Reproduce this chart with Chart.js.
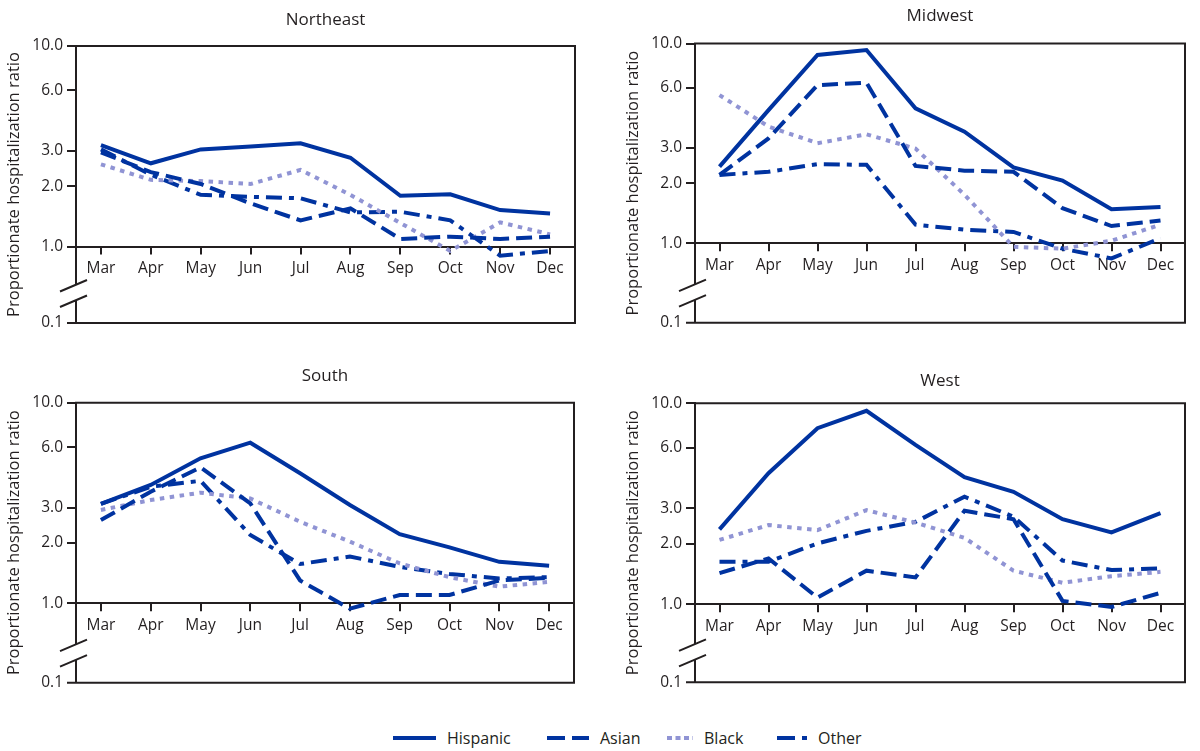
<!DOCTYPE html>
<html>
<head>
<meta charset="utf-8">
<script src="https://cdn.jsdelivr.net/npm/chart.js@4.4.1/dist/chart.umd.min.js"></script>
<style>
html,body{margin:0;padding:0;background:#fff;overflow:hidden;width:1200px;height:751px;}
canvas{position:absolute;}
.li{position:absolute;top:727px;height:22px;display:flex;align-items:center;font-family:'Open Sans',sans-serif;font-size:16px;color:#231f20;white-space:nowrap;}
.li svg{display:block;margin-right:11px;}
</style>
</head>
<body>
<canvas id="c0"></canvas>
<canvas id="c1"></canvas>
<canvas id="c2"></canvas>
<canvas id="c3"></canvas>
<div id="legend"></div>
<script>
// ---------- data ----------
const months = ['Mar','Apr','May','Jun','Jul','Aug','Sep','Oct','Nov','Dec'];
const yTicks = [1, 2, 3, 6, 10];
const yBreakTick = 0.1;
const yTitle = 'Proportionate hospitalization ratio';
const regions = ['Northeast', 'Midwest', 'South', 'West'];
const seriesNames = ['Hispanic', 'Asian', 'Black', 'Other'];

const neHispanic = [3.2, 2.6, 3.05, 3.15, 3.27, 2.77, 1.79, 1.82, 1.52, 1.46];
const neAsian    = [2.95, 2.35, 2.05, 1.64, 1.35, 1.55, 1.09, 1.12, 1.09, 1.12];
const neBlack    = [2.57, 2.15, 2.12, 2.05, 2.41, 1.81, 1.31, 0.95, 1.32, 1.15];
const neOther    = [3.05, 2.28, 1.81, 1.77, 1.74, 1.48, 1.49, 1.35, 0.90, 0.95];

const mwHispanic = [2.42, 4.64, 8.76, 9.27, 4.74, 3.62, 2.4, 2.06, 1.48, 1.52];
const mwAsian    = [2.2, 3.35, 6.19, 6.37, 2.44, 2.31, 2.28, 1.5, 1.22, 1.3];
const mwBlack    = [5.52, 3.84, 3.17, 3.51, 2.98, 1.75, 0.96, 0.94, 1.03, 1.24];
const mwOther    = [2.2, 2.28, 2.49, 2.47, 1.24, 1.17, 1.14, 0.94, 0.84, 1.06];

const soHispanic = [3.13, 3.89, 5.28, 6.32, 4.45, 3.09, 2.21, 1.90, 1.61, 1.54];
const soAsian    = [2.6, 3.6, 4.76, 3.15, 1.30, 0.94, 1.10, 1.10, 1.30, 1.34];
const soBlack    = [2.92, 3.27, 3.56, 3.33, 2.55, 2.03, 1.58, 1.35, 1.21, 1.28];
const soOther    = [3.13, 3.81, 4.08, 2.19, 1.57, 1.71, 1.52, 1.40, 1.33, 1.35];

const weHispanic = [2.36, 4.49, 7.52, 9.18, 6.21, 4.29, 3.63, 2.65, 2.28, 2.84];
const weAsian    = [1.43, 1.69, 1.08, 1.47, 1.36, 2.92, 2.65, 1.04, 0.97, 1.14];
const weBlack    = [2.09, 2.48, 2.34, 2.94, 2.55, 2.14, 1.47, 1.28, 1.38, 1.45];
const weOther    = [1.63, 1.63, 2.01, 2.32, 2.57, 3.43, 2.73, 1.65, 1.48, 1.51];

const regionSeries = [
  [neHispanic, neAsian, neBlack, neOther],
  [mwHispanic, mwAsian, mwBlack, mwOther],
  [soHispanic, soAsian, soBlack, soOther],
  [weHispanic, weAsian, weBlack, weOther]
];

// ---------- styles / layout ----------
const INK = '#231f20';
const DARK = '#0033a0';
const LIGHT = '#9094d4';
const seriesStyle = [
  {color: DARK,  dash: []},
  {color: DARK,  dash: [16, 7]},
  {color: LIGHT, dash: [4.5, 5.5]},
  {color: DARK,  dash: [16, 7, 5, 7]}
];
const panelLayout = [
  {L: 76,  T: 46,    R: 575,  upper: 200.5, ext: 76.5, titleGap: 26},
  {L: 695, T: 43.5,  R: 1185, upper: 199.8, ext: 79.4, titleGap: 27.5},
  {L: 76,  T: 402.7, R: 574,  upper: 200.6, ext: 79.4, titleGap: 26.7},
  {L: 695, T: 403.3, R: 1185, upper: 201,   ext: 78,   titleGap: 22.6}
];
const AXIS_W = 76;
const TICK_FONT = 15.5;

Chart.defaults.font.family = "'Open Sans', sans-serif";
Chart.defaults.color = INK;

const framePlugin = {
  id: 'frame',
  beforeDatasetsDraw(chart, args, o) {
    const ctx = chart.ctx, a = chart.chartArea;
    const yb = a.bottom + o.ext;
    ctx.save();
    ctx.strokeStyle = INK;
    ctx.lineWidth = 2;
    ctx.lineCap = 'butt';
    ctx.beginPath();
    ctx.moveTo(a.left - 1, a.top);
    ctx.lineTo(a.right, a.top);
    ctx.lineTo(a.right, yb);
    ctx.lineTo(a.left - 9, yb);
    ctx.moveTo(a.left, a.bottom);
    ctx.lineTo(a.left, yb - 38);
    ctx.moveTo(a.left, yb - 22.5);
    ctx.lineTo(a.left, yb);
    for (const d of [38, 22.5]) {
      ctx.moveTo(a.left - 16, yb - d + 6.5);
      ctx.lineTo(a.left + 11, yb - d - 5);
    }
    ctx.stroke();
    ctx.fillStyle = INK;
    ctx.font = TICK_FONT + "px 'Open Sans'";
    ctx.textAlign = 'right';
    ctx.textBaseline = 'middle';
    ctx.fillText(o.lowLabel, a.left - 13, yb);
    ctx.save();
    ctx.translate(a.left - 62, (a.top + yb) / 2);
    ctx.rotate(-Math.PI / 2);
    ctx.textAlign = 'center';
    ctx.font = "16.5px 'Open Sans'";
    ctx.fillText(o.yTitle, 0, 0);
    ctx.restore();
    ctx.textAlign = 'center';
    ctx.font = "17px 'Open Sans'";
    ctx.fillText(o.title, (a.left + a.right) / 2, a.top - o.titleGap);
    ctx.restore();
  }
};

regions.forEach((region, i) => {
  const p = panelLayout[i];
  const cv = document.getElementById('c' + i);
  const cTop = Math.floor(p.T - 46);
  const padTop = p.T - cTop;
  const cw = p.R - p.L + AXIS_W + 20;
  const ch = Math.ceil(padTop + p.upper + p.ext + 16);
  const xH = ch - padTop - p.upper;
  cv.width = cw; cv.height = ch;
  cv.style.width = cw + 'px'; cv.style.height = ch + 'px';
  cv.style.left = (p.L - AXIS_W) + 'px';
  cv.style.top = cTop + 'px';

  new Chart(cv, {
    type: 'line',
    data: {
      labels: months,
      datasets: seriesNames.map((name, k) => ({
        label: name,
        data: regionSeries[i][k],
        borderColor: seriesStyle[k].color,
        backgroundColor: seriesStyle[k].color,
        borderDash: seriesStyle[k].dash,
        borderWidth: 4,
        borderCapStyle: 'butt',
        pointRadius: 0,
        tension: 0,
        clip: false,
        fill: false
      }))
    },
    options: {
      responsive: false,
      animation: false,
      events: [],
      layout: {padding: {top: padTop, left: 0, right: 20, bottom: 0}},
      plugins: {
        legend: {display: false},
        tooltip: {enabled: false},
        frame: {ext: p.ext, titleGap: p.titleGap, title: region, yTitle: yTitle, lowLabel: yBreakTick.toFixed(1)}
      },
      scales: {
        x: {
          type: 'category',
          offset: true,
          afterFit: s => { s.height = xH; },
          grid: {display: true, drawOnChartArea: false, drawTicks: true, tickLength: 8, color: INK, lineWidth: 2, offset: false},
          border: {display: true, color: INK, width: 2},
          ticks: {font: {size: TICK_FONT}, color: INK, padding: 5, maxRotation: 0, autoSkip: false}
        },
        y: {
          type: 'logarithmic',
          min: yTicks[0],
          max: yTicks[yTicks.length - 1],
          afterFit: s => { s.width = AXIS_W; },
          afterBuildTicks: s => { s.ticks = yTicks.map(v => ({value: v})); },
          grid: {display: true, drawOnChartArea: false, drawTicks: true, tickLength: 9, color: INK, lineWidth: 2},
          border: {display: true, color: INK, width: 2},
          ticks: {font: {size: TICK_FONT}, color: INK, padding: 4, autoSkip: false, callback: v => Number(v).toFixed(1)}
        }
      }
    },
    plugins: [framePlugin]
  });
});

// ---------- legend ----------
const legendPos = [
  {x: 393, w: 43},
  {x: 547, w: 42},
  {x: 667, w: 26},
  {x: 777, w: 30}
];
const lg = document.getElementById('legend');
seriesNames.forEach((name, k) => {
  const d = document.createElement('div');
  d.className = 'li';
  d.style.left = legendPos[k].x + 'px';
  const w = legendPos[k].w;
  const dashAttr = seriesStyle[k].dash.length ? ` stroke-dasharray="${k === 1 ? '18 7' : k === 2 ? '5 3.5' : '18 7 5 7'}"` : '';
  d.innerHTML = `<svg width="${w}" height="8"><line x1="0" y1="4" x2="${w}" y2="4" stroke="${seriesStyle[k].color}" stroke-width="4"${dashAttr}/></svg><span>${name}</span>`;
  lg.appendChild(d);
});
</script>
</body>
</html>
